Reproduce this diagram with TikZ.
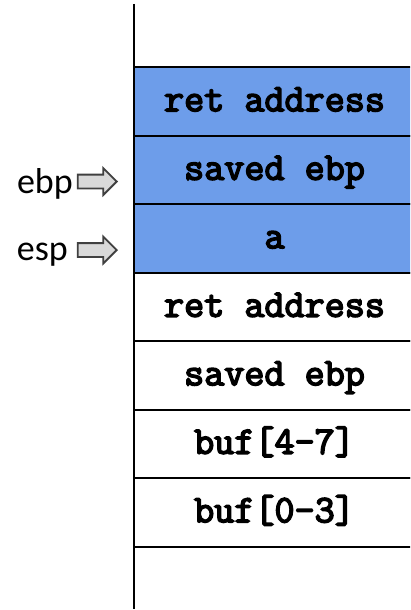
\documentclass[tikz,border=0pt]{standalone}
\usepackage{fontspec}
\setsansfont{Carlito}
\newfontfamily\cellfont{Latin Modern Mono}[FakeBold=4]
\usepackage{xcolor}
\usepackage{tikz}
\usetikzlibrary{shapes.arrows, positioning}

\definecolor{stackblue}{RGB}{109,157,234}
\definecolor{ptrgray}{RGB}{217,217,217}
\definecolor{ptrline}{RGB}{64,64,64}

\begin{document}
\begin{tikzpicture}[
    x=1pt, y=-1pt,
    cell/.style={rectangle, draw, line width=2pt, minimum width=281pt, minimum height=68.5pt, inner sep=0pt,
                 text height=22pt, text depth=2pt, font=\fontsize{39}{44}\selectfont\cellfont},
    used/.style={cell, fill=stackblue},
    reg/.style={font=\fontsize{36}{42}\selectfont\sffamily, inner sep=0pt, anchor=base east},
    ptr/.style={single arrow, draw=ptrline, fill=ptrgray, line width=1.8pt, inner sep=6pt,
                minimum height=39pt, minimum width=25pt, single arrow head extend=6.5pt,
                single arrow head indent=0pt, anchor=tip},
    axis/.style={draw, line width=2.5pt}
]
    \useasboundingbox (0,0) rectangle (410,610);
    \clip (0,0) rectangle (410,610);

    % Stack frame of the callee
    \node[used] (ret1) at (274.5,101.25) {ret address};
    \node[used] (ebp1) at (274.5,169.75) {saved ebp};
    \node[used] (vara) at (274.5,238.25) {a};

    % Stack frame of the caller
    \node[cell] (ret2) at (274.5,306.75) {ret address};
    \node[cell] (ebp2) at (274.5,375.25) {saved ebp};
    \node[cell] (bufhi) at (274.5,443.75) {buf[4-7]};
    \node[cell] (buflo) at (274.5,512.25) {buf[0-3]};

    % Stack axis
    \coordinate (stacktop) at (134,4);
    \coordinate (stackbottom) at (134,609);
    \draw[axis] (stacktop) -- (stackbottom);

    % Registers
    \node[ptr] (ebpptr) at (118,181.5) {};
    \node[ptr] (espptr) at (118,250) {};
    \node[reg] (ebp) at (73,193) {ebp};
    \node[reg] (esp) at (68,260) {esp};

\end{tikzpicture}
\end{document}
